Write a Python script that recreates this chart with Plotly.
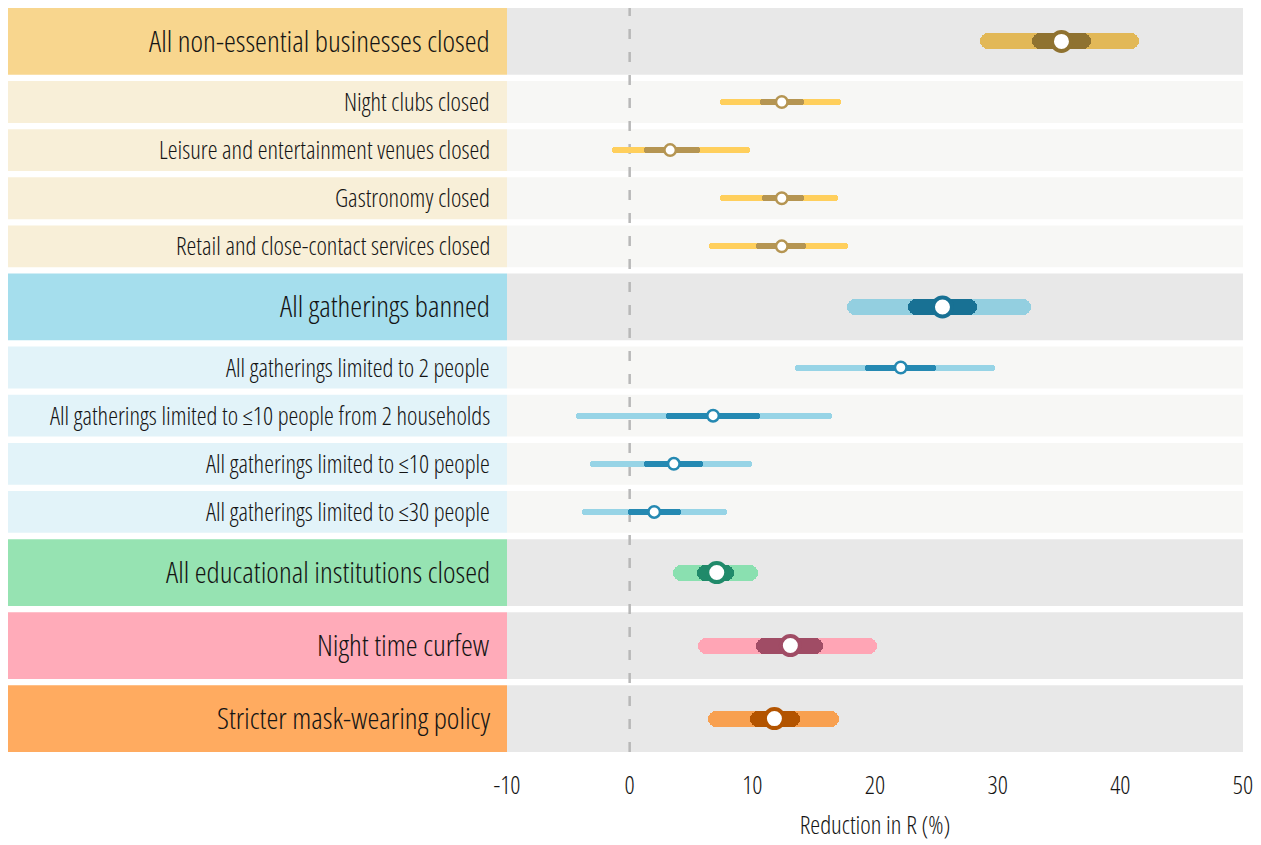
import plotly.graph_objects as go

# ---------------- data ----------------
labels = [
    "All non-essential businesses closed",
    "Night clubs closed",
    "Leisure and entertainment venues closed",
    "Gastronomy closed",
    "Retail and close-contact services closed",
    "All gatherings banned",
    "All gatherings limited to 2 people",
    "All gatherings limited to ≤10 people from 2 households",
    "All gatherings limited to ≤10 people",
    "All gatherings limited to ≤30 people",
    "All educational institutions closed",
    "Night time curfew",
    "Stricter mask-wearing policy",
]
is_main = [True, False, False, False, False, True, False, False, False, False, True, True, True]
group = ["biz", "biz", "biz", "biz", "biz", "gath", "gath", "gath", "gath", "gath", "edu", "curfew", "mask"]

estimate = [35.2, 12.4, 3.3, 12.4, 12.4, 25.5, 22.1, 6.8, 3.6, 2.0, 7.1, 13.1, 11.8]
inner_lo = [32.8, 10.6, 1.2, 10.8, 10.3, 22.7, 19.2, 3.0, 1.2, -0.1, 5.5, 10.3, 9.8]
inner_hi = [37.6, 14.2, 5.7, 14.2, 14.4, 28.3, 25.0, 10.6, 6.0, 4.2, 8.5, 15.8, 13.9]
outer_lo = [28.6, 7.4, -1.4, 7.4, 6.5, 17.7, 13.5, -4.4, -3.2, -3.9, 3.5, 5.6, 6.4]
outer_hi = [41.5, 17.2, 9.8, 17.0, 17.8, 32.7, 29.8, 16.5, 10.0, 7.9, 10.5, 20.2, 17.1]

x_ticks = [-10, 0, 10, 20, 30, 40, 50]
x_title = "Reduction in R (%)"

# ---------------- styles ----------------
FONT = "Open Sans, Roboto Condensed, sans-serif"
TEXT = "#141414"
WEIGHT = 360

def cond(s):
    return '<span style="font-stretch:condensed">' + s + '</span>'

colors = {
    "biz":    dict(lab_main="#f8d68e", lab_sub="#f8efd8", out_main="#e2b857", in_main="#8f7230", out_sub="#ffcf5c", in_sub="#b59552"),
    "gath":   dict(lab_main="#a5deed", lab_sub="#e2f3f9", out_main="#93cfe0", in_main="#187194", out_sub="#97d4e6", in_sub="#2589b2"),
    "edu":    dict(lab_main="#96e3b2", lab_sub="#96e3b2", out_main="#8ae0b0", in_main="#208a6a", out_sub="#8ae0b0", in_sub="#208a6a"),
    "curfew": dict(lab_main="#ffabb9", lab_sub="#ffabb9", out_main="#ffa5b5", in_main="#a04c65", out_sub="#ffa5b5", in_sub="#a04c65"),
    "mask":   dict(lab_main="#ffab60", lab_sub="#ffab60", out_main="#f8a050", in_main="#b35400", out_sub="#f8a050", in_sub="#b35400"),
}

ROW_MAIN, ROW_SUB, GAP = 67.0, 42.0, 6.3
W, H = 1253, 837
ML, MR, MT, MB = 499, 18, 0, 93
LABEL_LEFT_PX = 0
LABEL_RIGHT_PAD = 15

centers, tops, bots = [], [], []
cur = 0.0
for m in is_main:
    h = ROW_MAIN if m else ROW_SUB
    tops.append(cur)
    bots.append(cur + h)
    centers.append(cur + h / 2)
    cur += h + GAP
total = cur - GAP

plot_w = W - ML - MR
lab_x0 = (LABEL_LEFT_PX - ML) / plot_w
lab_text_x = -LABEL_RIGHT_PAD / plot_w

fig = go.Figure()

shapes = []
annotations = []
for i, lab in enumerate(labels):
    c = colors[group[i]]
    m = is_main[i]
    shapes.append(dict(type="rect", xref="paper", yref="y", x0=lab_x0, x1=0, y0=tops[i], y1=bots[i],
                       fillcolor=c["lab_main"] if m else c["lab_sub"], line_width=0, layer="below"))
    shapes.append(dict(type="rect", xref="paper", yref="y", x0=0, x1=1, y0=tops[i], y1=bots[i],
                       fillcolor="#e8e8e8" if m else "#f7f7f5", line_width=0, layer="below"))
    annotations.append(dict(text=cond(lab), xref="paper", yref="y", x=lab_text_x, y=centers[i] - 1,
                            xanchor="right", yanchor="middle", showarrow=False,
                            font=dict(family=FONT, size=30 if m else 24.8, color=TEXT, weight=WEIGHT)))

shapes.append(dict(type="line", xref="x", yref="paper", x0=0, x1=0, y0=0, y1=1,
                   line=dict(color="#b8b8b8", width=2.5, dash="10px,13px"), layer="below"))

outer_cols = [colors[g]["out_main"] if m else colors[g]["out_sub"] for g, m in zip(group, is_main)]
inner_cols = [colors[g]["in_main"] if m else colors[g]["in_sub"] for g, m in zip(group, is_main)]
thick = [16 if m else 6 for m in is_main]

fig.add_trace(go.Bar(
    orientation="h", y=centers, base=outer_lo,
    x=[h - l for l, h in zip(outer_lo, outer_hi)],
    width=thick, marker=dict(color=outer_cols, line_width=0, cornerradius="50%"),
    hoverinfo="skip", showlegend=False))
fig.add_trace(go.Bar(
    orientation="h", y=centers, base=inner_lo,
    x=[h - l for l, h in zip(inner_lo, inner_hi)],
    width=thick, marker=dict(color=inner_cols, line_width=0, cornerradius="50%"),
    hoverinfo="skip", showlegend=False))
fig.add_trace(go.Scatter(
    x=estimate, y=centers, mode="markers",
    marker=dict(size=[19 if m else 11.5 for m in is_main], color="white", opacity=1,
                line=dict(color=inner_cols, width=[4 if m else 2.5 for m in is_main])),
    hoverinfo="skip", showlegend=False))

fig.update_layout(
    width=W, height=H,
    margin=dict(l=ML, r=MR, t=MT, b=MB),
    paper_bgcolor="white", plot_bgcolor="white",
    barmode="overlay", bargap=0,
    shapes=shapes, annotations=annotations,
    font=dict(family=FONT, color=TEXT, weight=WEIGHT),
    xaxis=dict(range=[-10, 50], tickvals=x_ticks, ticktext=[cond(str(v)) for v in x_ticks],
               showgrid=False, zeroline=False, showline=False,
               ticks="", ticklabelstandoff=16,
               tickfont=dict(size=25, family=FONT, color=TEXT, weight=WEIGHT),
               title=dict(text=cond(x_title), standoff=16,
                          font=dict(size=25, family=FONT, color=TEXT, weight=WEIGHT)),
               fixedrange=True),
    yaxis=dict(range=[total, 0], showgrid=False, zeroline=False, showline=False,
               showticklabels=False, ticks="", fixedrange=True),
)

fig.write_html("out.html")
